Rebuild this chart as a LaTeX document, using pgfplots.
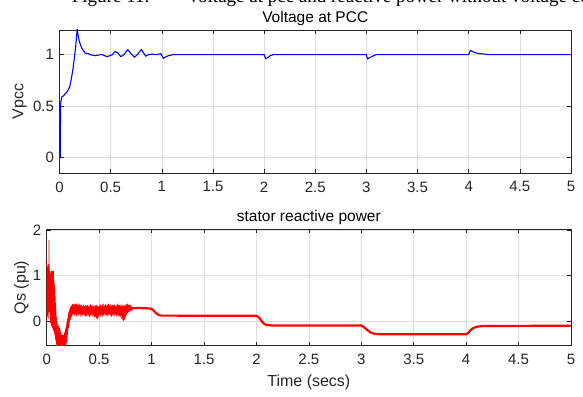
\documentclass[border=0pt]{standalone}
\usepackage{pgfplots}
\pgfplotsset{compat=1.18}
\usepackage{fontspec}
\setmainfont{Liberation Sans}
\newfontfamily\capfont{Liberation Serif}
\definecolor{axcol}{gray}{0.15}
\definecolor{gridcol}{gray}{0.87}
\pgfplotsset{
  myaxis/.style={
    scale only axis,
    xmin=0, xmax=5, xtick={0,0.5,...,5},
    grid=major, major grid style={gridcol, line width=0.6pt},
    axis line style={axcol, line width=0.7pt},
    tick align=inside, major tick length=4pt, tick style={axcol, line width=0.6pt},
    /pgf/number format/assume math mode=true,
    ticklabel style={font=\fontsize{15}{15}\selectfont, text=axcol},
    xticklabel style={yshift=-5pt},
    yticklabel style={xshift=-2pt},
    title style={font=\fontsize{15.5}{15.5}\selectfont, at={(axis description cs:0.5,1)}, anchor=base, yshift=1.7pt},
    label style={font=\fontsize{16}{16}\selectfont, text=axcol},
  }
}
\begin{document}
\begin{tikzpicture}
\node[anchor=base west, inner sep=0, font=\capfont\fontsize{19}{19}\selectfont] at (71.7pt,393pt) {Figure 11.};
\node[anchor=base west, inner sep=0, font=\capfont\fontsize{19}{19}\selectfont] at (186.7pt,393pt) {Voltage at pcc and reactive power without voltage control};

\begin{axis}[myaxis, anchor=south west, at={(59.5pt,223pt)}, width=511.5pt, height=143pt,
  ymin=-0.15, ymax=1.24, ytick={0,0.5,1},
  title={Voltage at PCC},
  ylabel={Vpcc}, ylabel style={at={(axis description cs:0,0.5)}, anchor=center, yshift=40pt}]
\addplot[blue, line width=1.1pt, line join=round] coordinates {
(0,0) (0.008,0) (0.010,0.50) (0.015,0.55) (0.023,0.59) (0.040,0.60) (0.055,0.62)
(0.067,0.63) (0.080,0.65) (0.100,0.69) (0.115,0.76) (0.133,0.87) (0.157,1.065)
(0.173,1.25) (0.180,1.20) (0.190,1.146) (0.200,1.11) (0.217,1.065) (0.235,1.04)
(0.250,1.016) (0.283,1.01) (0.300,1.00) (0.350,0.99) (0.400,1.00) (0.417,1.00)
(0.467,0.98) (0.490,0.99) (0.517,1.00) (0.540,1.03) (0.567,1.02) (0.600,0.98)
(0.630,1.00) (0.667,1.05) (0.700,1.01) (0.733,0.975) (0.760,1.00) (0.800,1.05)
(0.843,0.985) (0.870,1.00) (0.900,1.006) (0.950,1.00) (0.990,1.01) (1.016,0.965)
(1.040,0.98) (1.065,0.99) (1.110,1.00) (2.000,1.00) (2.016,0.96) (2.040,0.975)
(2.060,0.99) (2.090,1.00) (3.000,1.00) (3.010,0.958) (3.030,0.97) (3.060,0.985)
(3.095,1.00) (4.000,1.00) (4.015,1.042) (4.040,1.03) (4.060,1.02) (4.110,1.01)
(4.170,1.005) (4.190,1.00) (5.000,1.00)
};
\end{axis}

\begin{axis}[myaxis, anchor=south west, at={(46.7pt,50.3pt)}, width=524.3pt, height=116.7pt,
  ymin=-0.54, ymax=2.02, ytick={0,1,2},
  title={stator reactive power},
  xlabel={Time (secs)}, xlabel style={at={(axis description cs:0.5,0)}, anchor=base, yshift=-41pt},
  ylabel={Qs (pu)}, ylabel style={at={(axis description cs:0,0.5)}, anchor=center, yshift=25.2pt}]
\addplot[red, line width=0.6pt] coordinates {
(0.000,0.00) (0.002,1.35) (0.004,0.30) (0.006,1.20) (0.008,0.10) (0.010,1.15)
(0.012,0.25) (0.014,1.25) (0.016,0.05) (0.018,1.10) (0.020,0.20) (0.022,1.78)
(0.024,0.40) (0.026,1.20) (0.028,0.15) (0.030,1.10) (0.032,0.30) (0.034,1.05)
(0.036,-0.05) (0.038,1.00) (0.040,0.20) (0.042,1.10) (0.044,-0.10) (0.046,0.95)
(0.048,0.10) (0.050,1.10) (0.052,-0.15) (0.054,1.05) (0.056,0.00) (0.058,1.10)
(0.060,-0.20) (0.062,1.00) (0.064,-0.10) (0.066,1.10) (0.068,-0.25) (0.070,0.90)
(0.072,-0.15) (0.074,0.80) (0.076,-0.30) (0.078,0.70) (0.080,-0.35) (0.082,0.55)
(0.084,-0.40) (0.086,0.40) (0.088,-0.45) (0.090,0.25) (0.092,-0.50) (0.094,0.10)
(0.096,-0.55) (0.098,0.00) (0.100,-0.60) (0.102,-0.05) (0.104,-0.60) (0.106,-0.10)
(0.108,-0.60) (0.110,-0.15) (0.112,-0.60) (0.114,-0.10) (0.116,-0.60) (0.118,-0.20)
(0.120,-0.60) (0.122,-0.15) (0.124,-0.60) (0.126,-0.25) (0.128,-0.60) (0.130,-0.20)
(0.132,-0.60) (0.134,-0.30) (0.136,-0.60) (0.138,-0.25) (0.140,-0.60) (0.142,-0.35)
(0.144,-0.60) (0.146,-0.30) (0.148,-0.60) (0.150,-0.35) (0.152,-0.60) (0.154,-0.30)
(0.156,-0.60) (0.158,-0.35) (0.160,-0.60) (0.162,-0.30) (0.164,-0.60) (0.166,-0.35)
(0.168,-0.60) (0.170,-0.25) (0.172,-0.60) (0.174,-0.30) (0.176,-0.60) (0.178,-0.20)
(0.180,-0.60) (0.182,-0.15) (0.184,-0.55) (0.186,-0.10) (0.188,-0.50) (0.190,-0.05)
(0.192,-0.45) (0.194,0.00) (0.196,-0.35) (0.198,0.05) (0.200,-0.30) (0.202,0.10)
(0.204,-0.20) (0.206,0.15) (0.208,-0.15) (0.210,0.20) (0.212,-0.10) (0.214,0.22)
(0.216,-0.05) (0.218,0.25) (0.220,0.00) (0.222,0.28) (0.224,0.02) (0.226,0.30)
(0.228,0.05) (0.230,0.32) (0.232,0.08) (0.234,0.33) (0.236,0.10) (0.238,0.35)
(0.240,0.12) (0.242,0.36) (0.244,0.14) (0.246,0.37) (0.248,0.15)
(0.250,0.38) (0.255,0.15) (0.260,0.36) (0.265,0.12) (0.270,0.39) (0.275,0.16)
(0.280,0.37) (0.285,0.10) (0.290,0.40) (0.295,0.14) (0.300,0.36) (0.305,0.12)
(0.310,0.38) (0.315,0.15) (0.320,0.35) (0.325,0.10) (0.330,0.37) (0.335,0.13)
(0.340,0.34) (0.345,0.11) (0.350,0.36) (0.355,0.14) (0.360,0.33) (0.365,0.09)
(0.370,0.35) (0.375,0.12) (0.380,0.34) (0.385,0.10) (0.390,0.36) (0.395,0.13)
(0.400,0.33) (0.405,0.08) (0.410,0.35) (0.415,0.11) (0.420,0.37) (0.425,0.14)
(0.430,0.34) (0.435,0.10) (0.440,0.36) (0.445,0.12) (0.450,0.33) (0.455,0.07)
(0.460,0.35) (0.465,0.10) (0.470,0.34) (0.475,0.06) (0.480,0.36) (0.485,0.05)
(0.490,0.33) (0.495,0.08) (0.500,0.35) (0.505,0.12) (0.510,0.37) (0.515,0.10)
(0.520,0.34) (0.525,0.13) (0.530,0.36) (0.535,0.09) (0.540,0.38) (0.545,0.12)
(0.550,0.35) (0.555,0.14) (0.560,0.37) (0.565,0.11) (0.570,0.34) (0.575,0.13)
(0.580,0.36) (0.585,0.10) (0.590,0.38) (0.595,0.14) (0.600,0.35) (0.605,0.12)
(0.610,0.37) (0.615,0.09) (0.620,0.34) (0.625,0.12) (0.630,0.36) (0.635,0.14)
(0.640,0.35) (0.645,0.10) (0.650,0.37) (0.655,0.13) (0.660,0.34) (0.665,0.11)
(0.670,0.36) (0.675,0.14) (0.680,0.38) (0.685,0.12) (0.690,0.35) (0.695,0.10)
(0.700,0.37) (0.705,0.08) (0.710,0.34) (0.715,0.05) (0.720,0.36) (0.725,0.02)
(0.730,0.33) (0.735,0.00) (0.740,0.35) (0.745,0.03) (0.750,0.36) (0.755,0.08)
(0.760,0.37) (0.765,0.15) (0.770,0.38) (0.775,0.18) (0.780,0.36) (0.785,0.20)
(0.790,0.35) (0.795,0.22) (0.800,0.33) (0.805,0.23) (0.810,0.31) (0.815,0.25)
(0.820,0.30)
};
\addplot[red, line width=2.2pt, line join=round] coordinates {
(0.815,0.28) (0.85,0.285) (0.90,0.285) (0.95,0.28) (0.99,0.275)
(1.000,0.265) (1.02,0.23) (1.04,0.18) (1.06,0.145) (1.08,0.125) (1.10,0.12)
(2.00,0.115) (2.02,0.09) (2.04,0.03) (2.06,-0.03) (2.08,-0.07) (2.10,-0.085)
(2.14,-0.095) (3.00,-0.095) (3.03,-0.14) (3.06,-0.20) (3.09,-0.25) (3.12,-0.275)
(3.18,-0.29) (4.00,-0.29) (4.02,-0.26) (4.04,-0.20) (4.07,-0.15) (4.10,-0.125)
(4.15,-0.11) (5.00,-0.10)
};
\end{axis}
\pgfresetboundingbox
\path[use as bounding box] (0pt,0pt) rectangle (583pt,396pt);
\end{tikzpicture}
\end{document}
